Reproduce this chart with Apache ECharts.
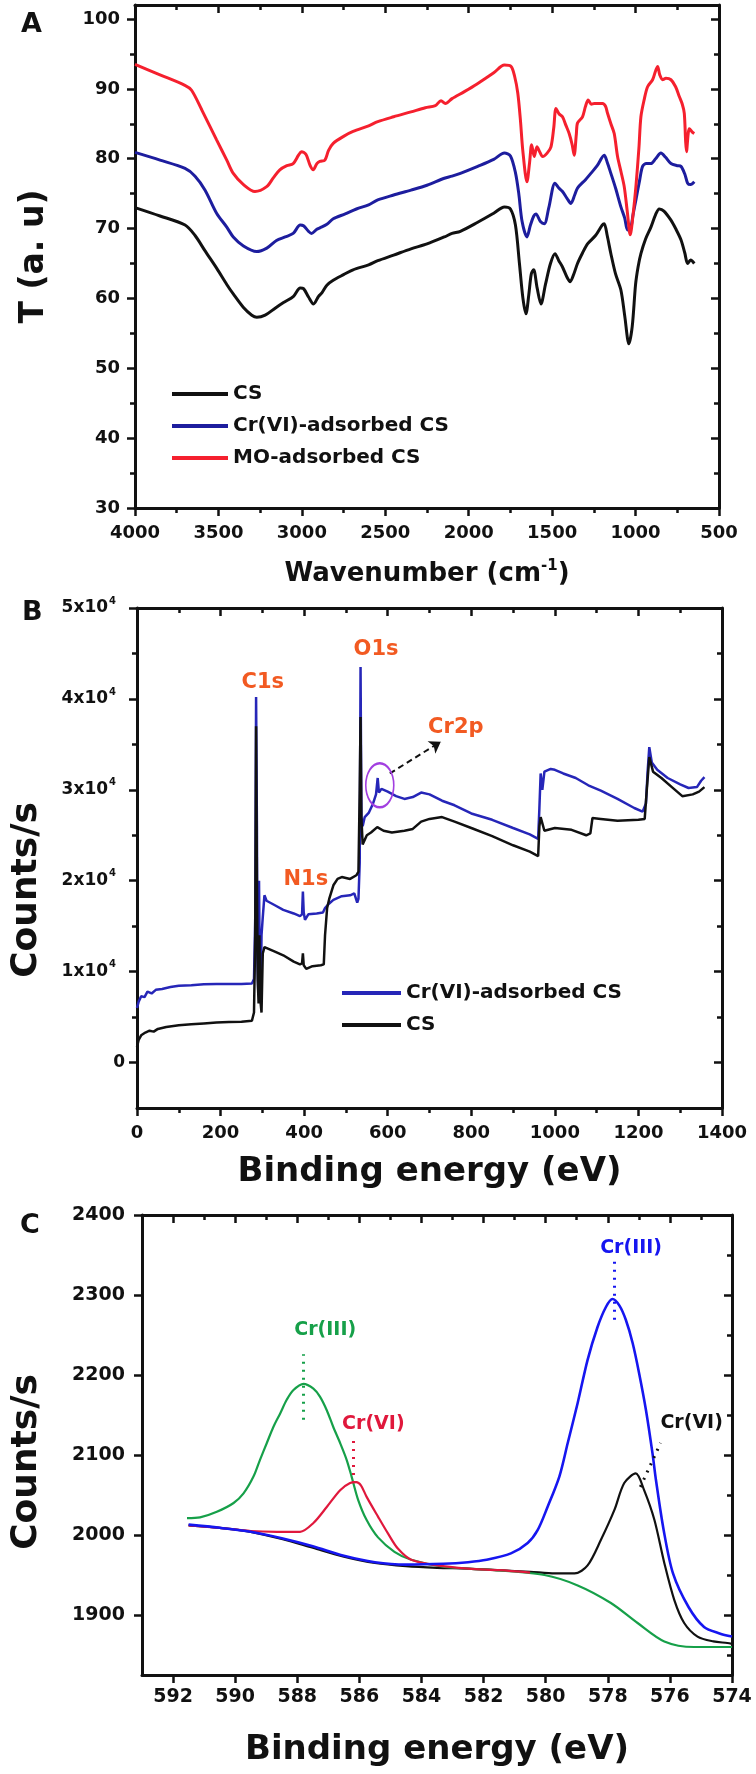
<!DOCTYPE html>
<html>
<head>
<meta charset="utf-8">
<title>FTIR and XPS of CS</title>
<script src="https://cdn.jsdelivr.net/npm/echarts@6/dist/echarts.min.js"></script>
<style>
  html, body { margin: 0; padding: 0; background: #fff; }
  #chart { width: 756px; height: 1774px; }
</style>
</head>
<body>
<div id="chart"></div>
<script>
const FONT = 'DejaVu Sans';
const INK = '#111111';

// ---- panel A: FTIR ----
const ftirXMajor = [4000, 3500, 3000, 2500, 2000, 1500, 1000, 500];
const ftirXMinor = [3750, 3250, 2750, 2250, 1750, 1250, 750];
const ftirYMajor = [30, 40, 50, 60, 70, 80, 90, 100];
const ftirYMinor = [35, 45, 55, 65, 75, 85, 95];

const ftirCS = [[4000,73.0],[3850,71.8],[3700,70.5],[3640,69.0],[3580,66.8],[3510,64.3],[3450,62.0],[3410,60.6],[3350,58.7],[3300,57.6],[3270,57.3],[3220,57.6],[3160,58.6],[3110,59.4],[3050,60.3],[3010,61.5],[2990,61.4],[2960,60.2],[2930,59.2],[2900,60.3],[2880,60.8],[2850,61.9],[2812,62.6],[2750,63.4],[2693,64.1],[2600,64.8],[2545,65.4],[2450,66.2],[2346,67.1],[2250,67.8],[2146,68.8],[2100,69.3],[2050,69.6],[1946,70.9],[1850,72.2],[1786,73.1],[1750,72.8],[1720,70.5],[1696,65.0],[1675,60.0],[1657,57.8],[1640,60.5],[1625,63.5],[1611,64.1],[1590,61.5],[1567,59.2],[1540,62.0],[1510,65.0],[1483,66.4],[1460,65.4],[1438,64.5],[1410,63.0],[1392,62.4],[1370,63.5],[1348,65.0],[1318,66.5],[1288,67.8],[1240,69.0],[1200,70.5],[1188,70.7],[1170,69.0],[1148,66.4],[1120,63.5],[1088,61.2],[1065,57.5],[1040,53.5],[1020,56.0],[1000,62.0],[985,64.5],[968,66.4],[940,68.5],[908,70.2],[880,72.0],[858,72.8],[830,72.5],[788,71.2],[760,70.0],[728,68.4],[705,66.5],[688,65.0],[670,65.5],[648,65.0]];
const ftirCr = [[4000,80.9],[3850,79.8],[3700,78.6],[3640,77.5],[3580,75.5],[3511,72.2],[3450,70.2],[3411,68.8],[3350,67.5],[3271,66.7],[3210,67.2],[3152,68.3],[3100,68.8],[3052,69.3],[3010,70.5],[2990,70.4],[2960,69.6],[2942,69.3],[2910,69.9],[2892,70.1],[2850,70.6],[2812,71.4],[2740,72.1],[2673,72.8],[2600,73.4],[2545,74.1],[2450,74.8],[2346,75.5],[2250,76.2],[2146,77.2],[2100,77.5],[2050,77.9],[1946,78.9],[1850,79.9],[1786,80.8],[1750,80.4],[1720,78.0],[1700,75.0],[1680,71.0],[1651,68.8],[1630,70.5],[1610,71.8],[1597,72.1],[1570,71.0],[1547,70.7],[1520,73.0],[1483,76.5],[1460,75.8],[1438,75.3],[1410,74.3],[1388,73.6],[1365,74.8],[1348,75.8],[1300,77.0],[1268,77.9],[1230,79.0],[1188,80.5],[1170,79.5],[1148,77.9],[1120,75.8],[1088,73.1],[1065,71.5],[1048,69.8],[1030,70.0],[1015,72.0],[998,74.1],[975,77.0],[958,78.9],[935,79.3],[908,79.3],[880,80.0],[848,80.8],[820,80.2],[788,79.3],[750,79.0],[728,78.9],[705,77.8],[688,76.5],[670,76.3],[648,76.7]];
const ftirMO = [[4000,93.5],[3850,92.0],[3701,90.5],[3661,89.8],[3600,87.0],[3511,82.7],[3450,79.8],[3411,77.9],[3350,76.3],[3281,75.3],[3211,76.0],[3170,77.3],[3132,78.4],[3090,79.0],[3052,79.3],[3020,80.5],[3002,81.0],[2975,80.6],[2950,79.0],[2932,78.4],[2910,79.3],[2892,79.6],[2862,79.8],[2840,81.2],[2812,82.2],[2750,83.2],[2693,83.9],[2600,84.7],[2545,85.3],[2450,86.0],[2346,86.7],[2260,87.3],[2200,87.6],[2166,88.3],[2140,87.9],[2100,88.6],[2026,89.6],[1950,90.7],[1850,92.3],[1786,93.4],[1746,93.2],[1725,91.8],[1706,89.4],[1690,85.5],[1676,81.2],[1651,76.7],[1635,79.5],[1623,82.0],[1607,80.3],[1591,81.7],[1575,81.0],[1557,80.3],[1530,80.8],[1507,81.7],[1490,84.5],[1477,87.2],[1458,86.4],[1438,86.0],[1418,84.8],[1398,83.6],[1380,82.0],[1368,80.5],[1355,83.5],[1348,85.1],[1318,86.0],[1300,87.5],[1284,88.4],[1265,87.8],[1248,87.9],[1198,87.9],[1180,87.5],[1168,86.5],[1148,85.0],[1128,83.6],[1108,80.3],[1088,78.2],[1068,76.0],[1050,72.5],[1032,69.1],[1015,72.0],[998,76.0],[980,81.5],[968,86.0],[948,88.5],[928,90.3],[898,91.3],[868,93.2],[855,92.0],[838,91.3],[818,91.5],[788,91.3],[760,90.3],[738,88.9],[720,87.8],[708,86.5],[700,82.5],[695,81.0],[685,83.5],[678,84.3],[660,83.8],[648,83.6]];

// ---- panel B: XPS survey ----
const surveyXMajor = [0, 200, 400, 600, 800, 1000, 1200, 1400];
const surveyXMinor = [100, 300, 500, 700, 900, 1100, 1300];
const surveyYMajor = [0, 10000, 20000, 30000, 40000, 50000];
const surveyYMinor = [5000, 15000, 25000, 35000, 45000];

const surveyCr = [[0,6000],[4,6700],[10,7300],[18,7200],[25,7800],[35,7600],[45,8000],[60,8100],[80,8300],[100,8450],[130,8500],[160,8600],[190,8650],[220,8650],[250,8650],[275,8700],[280,9200],[283,16000],[285,40200],[287,26000],[288,12000],[290,8000],[292,20000],[294,9000],[296,7000],[298,14000],[301,16000],[305,18400],[310,17800],[330,17300],[350,16800],[375,16400],[390,16100],[395,16300],[397,18800],[399,16500],[402,15700],[410,16300],[430,16400],[445,16500],[450,17000],[460,17500],[470,17900],[490,18300],[510,18400],[520,18600],[527,17600],[530,18000],[533,22000],[535,43500],[537,27000],[540,26000],[545,27000],[555,27500],[565,28500],[572,29500],[576,31300],[579,29700],[585,30100],[600,29800],[620,29300],[640,29000],[660,29200],[680,29700],[700,29500],[730,28800],[760,28300],[800,27400],[850,26700],[900,25800],[940,25100],[960,24600],[963,28000],[966,31800],[970,30000],[975,32000],[990,32300],[1000,32200],[1020,31800],[1050,31300],[1080,30500],[1110,29900],[1150,29000],[1190,28000],[1210,27600],[1218,28500],[1222,32000],[1226,34700],[1232,33000],[1245,32200],[1270,31300],[1300,30600],[1320,30200],[1340,30300],[1350,31000],[1358,31400]];
const surveyCS = [[0,1700],[4,2500],[10,3000],[20,3300],[30,3500],[40,3400],[50,3700],[70,3900],[100,4100],[130,4200],[160,4300],[190,4400],[220,4450],[250,4500],[275,4600],[280,5500],[283,14000],[285,37000],[287,20000],[289,9000],[291,6500],[293,14000],[295,7000],[298,5500],[301,12000],[305,12700],[330,12200],[350,11800],[375,11100],[390,10800],[395,10900],[397,12000],[399,10700],[405,10300],[420,10600],[440,10700],[447,10800],[450,14000],[455,17000],[460,18000],[470,19500],[480,20200],[490,20400],[510,20200],[525,20600],[530,21000],[533,30000],[535,38000],[537,27000],[540,24000],[550,25000],[560,25300],[575,25900],[590,25500],[610,25300],[640,25500],[660,25700],[680,26500],[700,26800],[730,27000],[760,26500],[800,25800],[850,24900],[900,23900],[940,23200],[960,22700],[963,26000],[966,27000],[975,25500],[1000,25800],[1040,25600],[1075,25000],[1085,25200],[1090,26900],[1110,26800],[1150,26600],[1200,26700],[1215,26800],[1220,30000],[1226,33600],[1235,32000],[1255,31300],[1280,30300],[1305,29300],[1330,29500],[1345,29800],[1358,30300]];

// peak names on the survey: [binding energy, counts, text]
const surveyPeaks = [[301, 41800, 'C1s'], [572, 45400, 'O1s'], [404, 20100, 'N1s'], [763, 36800, 'Cr2p']];

// ---- panel C: Cr 2p ----
const cr2pXMajor = [592, 590, 588, 586, 584, 582, 580, 578, 576, 574];
const cr2pXMinor = [591, 589, 587, 585, 583, 581, 579, 577, 575];
const cr2pYMajor = [1900, 2000, 2100, 2200, 2300, 2400];
const cr2pYMinor = [1850, 1950, 2050, 2150, 2250, 2350];

const cr2pCr6Low = [[591.5,2012],[590.5,2009],[589.5,2004],[588.5,1995],[587.5,1984],[586.5,1973],[585.5,1965],[584.5,1961],[583.5,1959],[582.5,1958],[581.5,1956],[580.5,1954],[579.7,1952],[579.07,1952],[578.65,1962],[578.22,1994],[577.79,2031],[577.47,2065],[577.1,2077],[576.83,2056],[576.5,2019],[576.18,1965],[575.86,1919],[575.54,1890],[575.11,1873],[574.6,1867],[574.15,1865],[574,1864]];
const cr2pCr3High = [[591.55,2021],[591.13,2022],[590.59,2029],[590.05,2040],[589.73,2052],[589.41,2073],[589.2,2094],[588.98,2115],[588.77,2135],[588.55,2152],[588.34,2169],[588.13,2181],[587.8,2189],[587.48,2183],[587.27,2173],[587.05,2156],[586.84,2135],[586.62,2115],[586.41,2094],[586.25,2073],[586.04,2044],[585.77,2019],[585.4,1997],[584.87,1979],[584.33,1969],[583.26,1960],[581.65,1956],[580.04,1950],[578.97,1937],[577.9,1915],[577.04,1890],[576.18,1867],[575.22,1860],[574.6,1860],[574.0,1860]];
const cr2pCr6High = [[591.5,2012],[590.5,2009],[589.5,2005],[588.66,2004],[587.91,2004],[587.48,2015],[587.05,2035],[586.62,2056],[586.3,2065],[586.1,2066],[585.95,2062],[585.77,2048],[585.4,2023],[585.08,2002],[584.76,1983],[584.33,1969],[583.5,1962],[582.5,1958],[581.5,1956],[580.5,1953]];
const cr2pCr3Low = [[591.5,2013],[590.5,2009],[589.5,2004],[588.5,1996],[587.5,1986],[586.5,1974],[585.5,1966],[584.5,1963],[583.3,1964],[582.5,1966],[581.9,1969],[581.12,1977],[580.58,1990],[580.26,2006],[579.94,2035],[579.56,2073],[579.29,2115],[578.97,2165],[578.65,2219],[578.33,2260],[578.06,2285],[577.85,2295],[577.63,2287],[577.42,2269],[577.2,2240],[576.99,2202],[576.77,2156],[576.56,2102],[576.45,2069],[576.2,2006],[575.9,1952],[575.4,1910],[574.9,1885],[574.4,1877],[574,1873]];

// component names: [label x, label y, text, leader from, leader to]
const cr2pTags = [
  [587.1, 2256, 'Cr(III)', [587.8, 2144], [587.8, 2226]],
  [585.55, 2139, 'Cr(VI)', [586.2, 2065], [586.2, 2123]],
  [577.25, 2359, 'Cr(III)', [577.8, 2269], [577.8, 2347]],
  [575.3, 2140, 'Cr(VI)', [576.95, 2060], [576.3, 2115]]
];

const BLUE_A = '#1d1d9e';
const RED_A = '#f5202e';
const BLUE_B = '#2626b8';
const ORANGE = '#f25a22';
const GREEN_C = '#16a049';
const RED_C = '#e0183c';
const BLUE_C = '#1616f0';

const plain = v => String(v);

function tickStyle(vals, len, inside) {
  return { show: vals.length > 0, inside: inside, length: len, customValues: vals,
    lineStyle: { color: INK, width: 2.5 } };
}

// four axes per side pair: near (with labels), near minor ticks, far mirror, far minor ticks
function axisSet(dim, grid, c) {
  const near = dim === 'x' ? 'bottom' : 'left';
  const far = dim === 'x' ? 'top' : 'right';
  const base = { gridIndex: grid, type: 'value', min: c.min, max: c.max, inverse: !!c.inverse,
    splitLine: { show: false }, nameMoveOverlap: false };
  const line = { show: true, onZero: false, lineStyle: { color: INK, width: 3 } };
  const noLine = { show: false, onZero: false };
  return [
    Object.assign({}, base, {
      position: near, axisLine: line, axisTick: tickStyle(c.majors, 8, false),
      axisLabel: Object.assign({ show: true, customValues: c.majors, color: INK, fontFamily: FONT,
        fontWeight: 'bold', fontSize: c.fontSize, margin: c.margin, formatter: plain }, c.label || {}),
      name: c.name, nameLocation: 'middle', nameGap: c.nameGap,
      nameTextStyle: Object.assign({ color: INK, fontFamily: FONT, fontWeight: 'bold', fontSize: c.nameSize }, c.nameStyle || {})
    }),
    Object.assign({}, base, { position: near, axisLine: noLine, axisTick: tickStyle(c.nearMinor, 5, false), axisLabel: { show: false } }),
    Object.assign({}, base, { position: far, axisLine: line, axisTick: tickStyle(c.farMajor, 8, true), axisLabel: { show: false } }),
    Object.assign({}, base, { position: far, axisLine: noLine, axisTick: tickStyle(c.farMinor, 5, true), axisLabel: { show: false } })
  ];
}

const supRich = {
  t: { fontFamily: FONT, fontWeight: 'bold', color: INK },
  s: { fontFamily: FONT, fontWeight: 'bold', color: INK, verticalAlign: 'top' }
};

const xAxes = [].concat(
  axisSet('x', 0, { min: 500, max: 4000, inverse: true, majors: ftirXMajor, nearMinor: ftirXMinor,
    farMajor: ftirXMajor, farMinor: ftirXMinor, fontSize: 18, margin: 16,
    name: '{t|Wavenumber (cm}{s|-1}{t|)}', nameGap: 51, nameSize: 26,
    nameStyle: { rich: { t: Object.assign({}, supRich.t, { fontSize: 26, lineHeight: 30 }), s: Object.assign({}, supRich.s, { fontSize: 15, lineHeight: 30 }) } } }),
  axisSet('x', 1, { min: 0, max: 1400, majors: surveyXMajor, nearMinor: surveyXMinor,
    farMajor: surveyXMajor, farMinor: surveyXMinor, fontSize: 18, margin: 16,
    name: 'Binding energy (eV)', nameGap: 47, nameSize: 34 }),
  axisSet('x', 2, { min: 574, max: 593, inverse: true, majors: cr2pXMajor, nearMinor: [],
    farMajor: cr2pXMajor, farMinor: cr2pXMinor, fontSize: 19, margin: 13,
    name: 'Binding energy (eV)', nameGap: 58, nameSize: 34 })
);

const yAxes = [].concat(
  axisSet('y', 0, { min: 30, max: 102, majors: ftirYMajor, nearMinor: ftirYMinor,
    farMajor: ftirYMajor, farMinor: ftirYMinor, fontSize: 18, margin: 15,
    name: 'T (a. u)', nameGap: 84, nameSize: 33 }),
  axisSet('y', 1, { min: -5000, max: 50000, majors: surveyYMajor, nearMinor: surveyYMinor,
    farMajor: surveyYMajor, farMinor: surveyYMinor, fontSize: 17, margin: 12,
    label: {
      formatter: v => v === 0 ? '{b|0}' : '{b|' + (v / 10000) + 'x10}{e|4}',
      rich: {
        b: { fontFamily: FONT, fontWeight: 'bold', fontSize: 17, color: INK, lineHeight: 24 },
        e: { fontFamily: FONT, fontWeight: 'bold', fontSize: 10, color: INK, lineHeight: 24, verticalAlign: 'top', padding: [0, 9, 0, 1] }
      }
    },
    name: 'Counts/s', nameGap: 92, nameSize: 36, nameStyle: { padding: [0, 64, 0, 0] } }),
  axisSet('y', 2, { min: 1825, max: 2400, majors: cr2pYMajor, nearMinor: [],
    farMajor: cr2pYMajor, farMinor: cr2pYMinor, fontSize: 19, margin: 17,
    name: 'Counts/s', nameGap: 97, nameSize: 36, nameStyle: { padding: [0, 34, 0, 0] } })
);

const legendText = { color: INK, fontFamily: FONT, fontWeight: 'bold', fontSize: 20 };

function curve(name, grid, data, color, width, smooth) {
  return { name: name, type: 'line', xAxisIndex: grid * 4, yAxisIndex: grid * 4, data: data,
    showSymbol: false, symbol: 'none', smooth: smooth, silent: true,
    lineStyle: { color: color, width: width }, itemStyle: { color: color } };
}

const textMark = (coord, text, color, size) => ({
  coord: coord, symbol: 'circle', symbolSize: 1, itemStyle: { color: 'rgba(0,0,0,0)' },
  label: { show: true, position: 'inside', formatter: text, color: color, fontFamily: FONT,
    fontWeight: 'bold', fontSize: size }
});

const surveyBlack = curve('CS', 1, surveyCS, INK, 2.5, false);
surveyBlack.markPoint = {
  silent: true, animation: false,
  data: surveyPeaks.map(p => textMark([p[0], p[1]], p[2], ORANGE, 21)).concat([{
    coord: [581, 30500], symbol: 'circle', symbolSize: [28, 44],
    itemStyle: { color: 'rgba(0,0,0,0)', borderColor: '#a23fe0', borderWidth: 2 }, label: { show: false }
  }])
};
surveyBlack.markLine = {
  silent: true, animation: false, symbol: ['none', 'arrow'], symbolSize: 11,
  lineStyle: { color: INK, width: 2, type: [6, 4] }, label: { show: false },
  data: [[{ coord: [605, 31800] }, { coord: [727, 35300] }]]
};

const cr2pColors = [GREEN_C, RED_C, BLUE_C, INK];
const cr2pSeries = [
  curve('Cr(VI) 2p3/2', 2, cr2pCr6Low, INK, 2.2, 0.3),
  curve('Cr(III) 2p1/2', 2, cr2pCr3High, GREEN_C, 2.2, 0.3),
  curve('Cr(VI) 2p1/2', 2, cr2pCr6High, RED_C, 2.2, 0.3),
  curve('Cr(III) 2p3/2', 2, cr2pCr3Low, BLUE_C, 2.6, 0.3)
];
cr2pSeries[3].markPoint = {
  silent: true, animation: false,
  data: cr2pTags.map((t, i) => textMark([t[0], t[1]], t[2], cr2pColors[i], 19))
};
cr2pSeries[3].markLine = {
  silent: true, animation: false, symbol: ['none', 'none'], label: { show: false },
  lineStyle: { width: 3, type: [2, 6] },
  data: cr2pTags.map((t, i) => [{ coord: t[3], lineStyle: { color: cr2pColors[i] } }, { coord: t[4] }])
};

const option = {
  animation: false,
  backgroundColor: '#ffffff',
  grid: [
    { left: 135, top: 5, width: 584, height: 503, outerBoundsMode: 'none' },
    { left: 137, top: 608, width: 585, height: 500, outerBoundsMode: 'none' },
    { left: 142, top: 1215, width: 590, height: 460, outerBoundsMode: 'none' }
  ],
  xAxis: xAxes,
  yAxis: yAxes,
  legend: [
    { left: 167, top: 379, orient: 'vertical', icon: 'rect', itemWidth: 56, itemHeight: 4, itemGap: 12,
      selectedMode: false, textStyle: legendText,
      data: [{ name: 'CS', itemStyle: { color: INK } },
             { name: 'Cr(VI)-adsorbed CS', itemStyle: { color: BLUE_A } },
             { name: 'MO-adsorbed CS', itemStyle: { color: RED_A } }] },
    { left: 337, top: 978, orient: 'vertical', icon: 'rect', itemWidth: 59, itemHeight: 4, itemGap: 12,
      selectedMode: false, textStyle: legendText,
      data: [{ name: 'Cr(VI)-adsorbed CS', itemStyle: { color: BLUE_B } },
             { name: 'CS', itemStyle: { color: INK } }] }
  ],
  graphic: [
    { type: 'text', left: 21, top: 11, style: { text: 'A', fill: INK, font: 'bold 27px "DejaVu Sans"' } },
    { type: 'text', left: 22, top: 599, style: { text: 'B', fill: INK, font: 'bold 27px "DejaVu Sans"' } },
    { type: 'text', left: 20, top: 1212, style: { text: 'C', fill: INK, font: 'bold 27px "DejaVu Sans"' } }
  ],
  series: [
    curve('CS', 0, ftirCS, INK, 3, 0.3),
    curve('Cr(VI)-adsorbed CS', 0, ftirCr, BLUE_A, 3, 0.3),
    curve('MO-adsorbed CS', 0, ftirMO, RED_A, 3, 0.3),
    curve('Cr(VI)-adsorbed CS', 1, surveyCr, BLUE_B, 2.5, false),
    surveyBlack
  ].concat(cr2pSeries)
};

const chart = echarts.init(document.getElementById('chart'));
chart.setOption(option);
</script>
</body>
</html>
